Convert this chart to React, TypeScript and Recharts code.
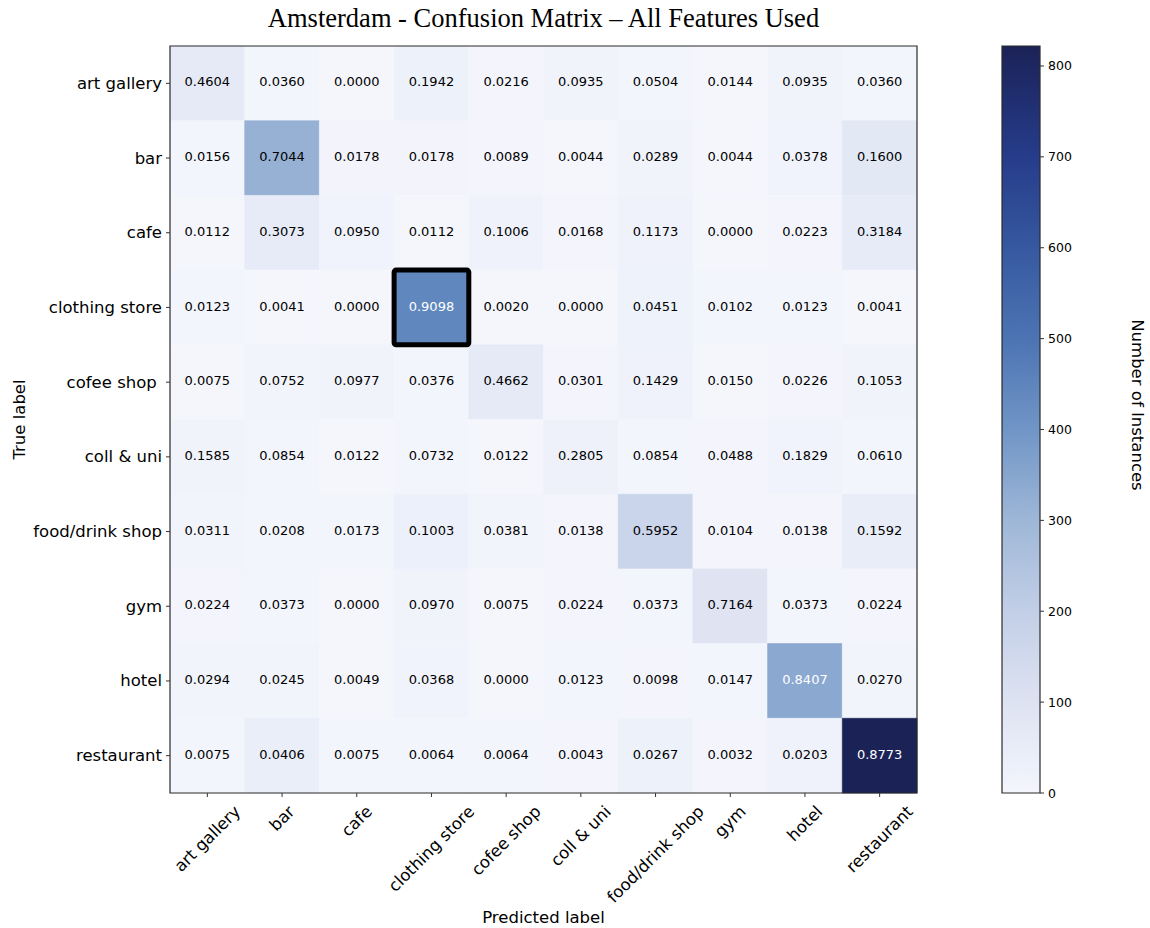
import React from 'react';
import { ScatterChart, Scatter, XAxis, YAxis, ReferenceArea, Label } from 'recharts';

// Class names on each axis (the row label for "cofee shop" carries a trailing space)
const predictedLabels = [
  'art gallery', 'bar', 'cafe', 'clothing store', 'cofee shop',
  'coll & uni', 'food/drink shop', 'gym', 'hotel', 'restaurant',
];
const trueLabels = [
  'art gallery', 'bar', 'cafe', 'clothing store', 'cofee shop ',
  'coll & uni', 'food/drink shop', 'gym', 'hotel', 'restaurant',
];

// Instance counts per true class (row), one entry per predicted class
const artGalleryRow = [64, 5, 0, 27, 3, 13, 7, 2, 13, 5];
const barRow = [7, 317, 8, 8, 4, 2, 13, 2, 17, 72];
const cafeRow = [2, 55, 17, 2, 18, 3, 21, 0, 4, 57];
const clothingStoreRow = [6, 2, 0, 444, 1, 0, 22, 5, 6, 2];
const cofeeShopRow = [1, 10, 13, 5, 62, 4, 19, 2, 3, 14];
const collUniRow = [13, 7, 1, 6, 1, 23, 7, 4, 15, 5];
const foodDrinkShopRow = [9, 6, 5, 29, 11, 4, 172, 3, 4, 46];
const gymRow = [3, 5, 0, 13, 1, 3, 5, 96, 5, 3];
const hotelRow = [12, 10, 2, 15, 0, 5, 4, 6, 343, 11];
const restaurantRow = [7, 38, 7, 6, 6, 4, 25, 3, 19, 822];

const confusionRows = [
  artGalleryRow, barRow, cafeRow, clothingStoreRow, cofeeShopRow,
  collUniRow, foodDrinkShopRow, gymRow, hotelRow, restaurantRow,
];

const instanceTicks = [0, 100, 200, 300, 400, 500, 600, 700, 800];
const highlightedCell = { row: 3, col: 3 };

const SANS = "'DejaVu Sans', 'Bitstream Vera Sans', sans-serif";
const SERIF = "'Liberation Serif', 'Times New Roman', serif";
const TICK_FONT = 16.5;
const CELL_FONT = 13;

const maxCount = Math.max(...confusionRows.flat());

// Blues-like colour ramp, stops on the normalised count scale
const RAMP: [number, [number, number, number]][] = [
  [0, [245, 246, 252]],
  [0.036, [236, 240, 250]],
  [0.12, [222, 227, 242]],
  [0.24, [195, 207, 231]],
  [0.365, [158, 183, 215]],
  [0.487, [112, 149, 198]],
  [0.608, [76, 116, 179]],
  [0.73, [54, 88, 160]],
  [0.852, [38, 60, 138]],
  [0.93, [32, 46, 112]],
  [1, [27, 34, 86]],
];

function rampColor(t: number): string {
  const v = Math.max(0, Math.min(1, t));
  for (let i = 1; i < RAMP.length; i++) {
    const [t1, c1] = RAMP[i];
    const [t0, c0] = RAMP[i - 1];
    if (v <= t1) {
      const f = (v - t0) / (t1 - t0);
      const c = c0.map((a, k) => Math.round(a + (c1[k] - a) * f));
      return `rgb(${c[0]},${c[1]},${c[2]})`;
    }
  }
  const c = RAMP[RAMP.length - 1][1];
  return `rgb(${c[0]},${c[1]},${c[2]})`;
}

type CellDatum = { x: number; y: number; count: number; frac: number };

const cells: CellDatum[] = confusionRows.flatMap((row, r) => {
  const total = row.reduce((a, b) => a + b, 0);
  return row.map((count, c) => ({ x: c, y: r, count, frac: count / total }));
});

const classIndices = predictedLabels.map((_, i) => i);

let measureCtx: CanvasRenderingContext2D | null = null;
function textWidth(s: string, font: string): number {
  if (!measureCtx && typeof document !== 'undefined') {
    measureCtx = document.createElement('canvas').getContext('2d');
  }
  if (!measureCtx) return s.length * 9;
  measureCtx.font = font;
  return measureCtx.measureText(s).width;
}

const XTick = (props: any) => {
  const { x, y, payload } = props;
  const label = predictedLabels[payload.value];
  const w = textWidth(label, `${TICK_FONT}px 'DejaVu Sans'`);
  const h = TICK_FONT * 1.16;
  const cy = y + ((w + h) * Math.SQRT1_2) / 2;
  return (
    <text
      x={x}
      y={cy}
      transform={`rotate(-45 ${x} ${cy})`}
      textAnchor="middle"
      dominantBaseline="central"
      fontFamily={SANS}
      fontSize={TICK_FONT}
      fill="#000"
    >
      {label}
    </text>
  );
};

const YTick = (props: any) => {
  const { x, y, payload } = props;
  return (
    <text
      x={x}
      y={y}
      textAnchor="end"
      dominantBaseline="central"
      fontFamily={SANS}
      fontSize={TICK_FONT}
      fill="#000"
      style={{ whiteSpace: 'pre' }}
    >
      {trueLabels[payload.value]}
    </text>
  );
};

const InstanceTick = (props: any) => {
  const { x, y, payload } = props;
  return (
    <text x={x} y={y} textAnchor="start" dominantBaseline="central" fontFamily={SANS} fontSize={12.5} fill="#000">
      {payload.value}
    </text>
  );
};

const TrueAxisTitle = () => (
  <text
    x={19}
    y={419.5}
    transform="rotate(-90 19 419.5)"
    textAnchor="middle"
    dominantBaseline="central"
    fontFamily={SANS}
    fontSize={TICK_FONT}
    fill="#000"
  >
    True label
  </text>
);

const InstancesTitle = () => (
  <text
    x={147}
    y={405}
    transform="rotate(90 147 405)"
    textAnchor="middle"
    dominantBaseline="central"
    fontFamily={SANS}
    fontSize={TICK_FONT}
    fill="#000"
  >
    Number of Instances
  </text>
);

const NoPoint = () => <g />;

export default function App() {
  return (
    <div style={{ position: 'relative', width: 1150, height: 928, background: '#fff' }}>
      <style>{'body{margin:0;}'}</style>
      <svg width={0} height={0} style={{ position: 'absolute' }}>
        <defs>
          <linearGradient id="instanceRamp" x1="0" y1="1" x2="0" y2="0">
            {RAMP.map(([t, c]) => (
              <stop key={t} offset={t} stopColor={`rgb(${c[0]},${c[1]},${c[2]})`} />
            ))}
          </linearGradient>
        </defs>
      </svg>

      <svg width={1150} height={46} style={{ position: 'absolute', left: 0, top: 0 }}>
        <text x={543.5} y={27} textAnchor="middle" fontFamily={SERIF} fontSize={26.5} fill="#000">
          Amsterdam - Confusion Matrix – All Features Used
        </text>
      </svg>

      <div style={{ position: 'absolute', left: 0, top: 0 }}>
        <ScatterChart width={1150} height={928} margin={{ top: 46, right: 233, bottom: 0, left: 0 }}>
          <XAxis
            type="number"
            dataKey="x"
            domain={[-0.5, 9.5]}
            ticks={classIndices}
            interval={0}
            height={135}
            axisLine={false}
            tickSize={4}
            tickMargin={5}
            tickLine={{ stroke: '#333' }}
            tick={<XTick />}
          >
            <Label value="Predicted label" position="insideBottom" offset={5} fill="#000" fontSize={TICK_FONT} fontFamily={SANS} />
          </XAxis>
          <YAxis
            type="number"
            dataKey="y"
            domain={[-0.5, 9.5]}
            reversed
            ticks={classIndices}
            interval={0}
            width={170}
            axisLine={false}
            tickSize={4}
            tickMargin={4}
            tickLine={{ stroke: '#333' }}
            tick={<YTick />}
          >
            <Label content={<TrueAxisTitle />} />
          </YAxis>

          {cells.map((d) => {
            const fill = rampColor(d.count / maxCount);
            return (
              <ReferenceArea
                key={`c-${d.y}-${d.x}`}
                x1={d.x - 0.5}
                x2={d.x + 0.5}
                y1={d.y - 0.5}
                y2={d.y + 0.5}
                fill={fill}
                fillOpacity={1}
                stroke={fill}
                strokeWidth={0.6}
                ifOverflow="visible"
                label={{
                  value: d.frac.toFixed(4),
                  position: 'center',
                  dy: -1.5,
                  fill: d.frac > 0.75 ? '#fff' : '#000',
                  fontSize: CELL_FONT,
                  fontFamily: SANS,
                }}
              />
            );
          })}

          <ReferenceArea
            x1={-0.5}
            x2={9.5}
            y1={-0.5}
            y2={9.5}
            fill="none"
            stroke="#2b2b2b"
            strokeWidth={1.2}
            ifOverflow="visible"
          />
          <ReferenceArea
            x1={highlightedCell.col - 0.5}
            x2={highlightedCell.col + 0.5}
            y1={highlightedCell.row - 0.5}
            y2={highlightedCell.row + 0.5}
            fill="none"
            stroke="#000"
            strokeWidth={5}
            radius={2}
            ifOverflow="visible"
          />
          <Scatter data={cells} dataKey="y" isAnimationActive={false} shape={<NoPoint />} />
        </ScatterChart>
      </div>

      <div style={{ position: 'absolute', left: 990, top: 0 }}>
        <ScatterChart width={160} height={928} margin={{ top: 46, right: 0, bottom: 135, left: 12 }}>
          <XAxis type="number" dataKey="x" domain={[0, 1]} hide />
          <YAxis
            type="number"
            dataKey="y"
            orientation="right"
            domain={[0, maxCount]}
            ticks={instanceTicks}
            interval={0}
            width={110}
            axisLine={false}
            tickSize={4}
            tickMargin={4}
            tickLine={{ stroke: '#333' }}
            tick={<InstanceTick />}
          >
            <Label content={<InstancesTitle />} />
          </YAxis>
          <ReferenceArea
            x1={0}
            x2={1}
            y1={0}
            y2={maxCount}
            fill="url(#instanceRamp)"
            fillOpacity={1}
            stroke="#2b2b2b"
            strokeWidth={1.2}
            ifOverflow="visible"
          />
          <Scatter
            data={[{ x: 0, y: 0 }, { x: 1, y: maxCount }]}
            dataKey="y"
            isAnimationActive={false}
            shape={<NoPoint />}
          />
        </ScatterChart>
      </div>
    </div>
  );
}
